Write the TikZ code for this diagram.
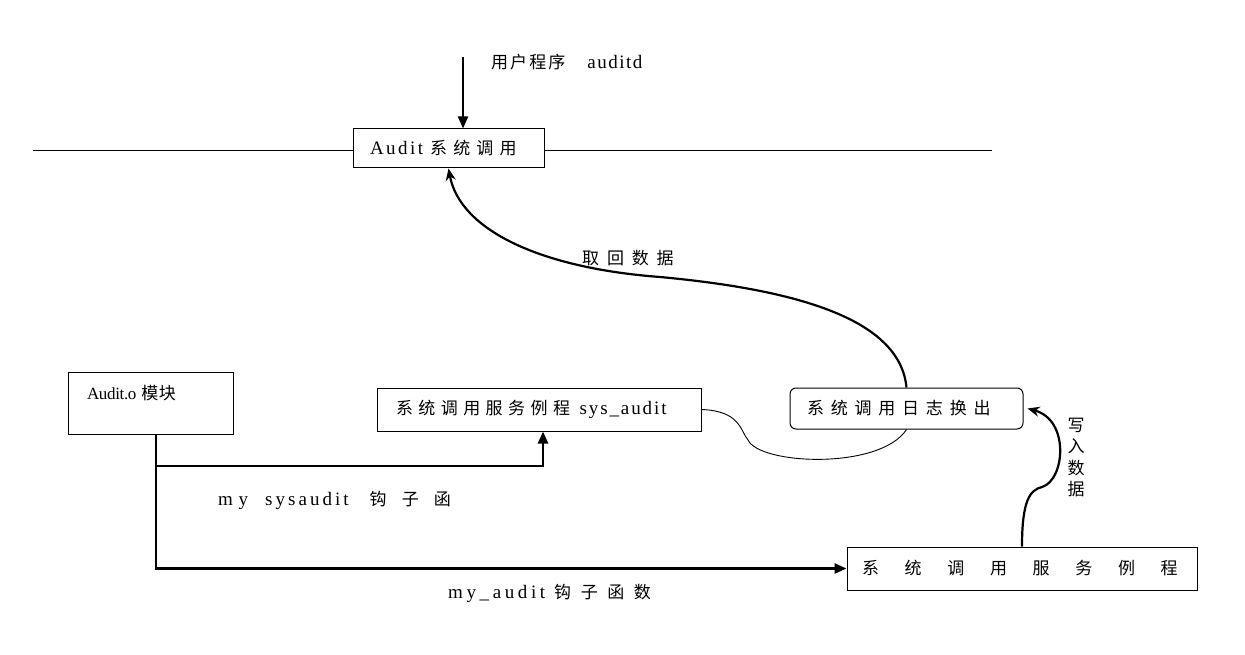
\documentclass[tikz,border=0pt]{standalone}
\usepackage{fontspec}
\setmainfont{Liberation Serif}
\newfontfamily\cjk{Noto Sans CJK SC}
\newcommand\LS[1]{\addfontfeature{LetterSpace=#1}}
\newcommand\zh[2]{{\cjk\fontsize{17}{20}\selectfont\LS{#1}#2}}
\newcommand\la[2]{{\fontsize{19}{22}\selectfont\LS{#1}#2}}
\usetikzlibrary{arrows.meta,calc}
\tikzset{
  box/.style={draw, line width=1pt, inner ysep=0pt, align=left, font=\fontsize{17}{20}\selectfont},
  rbox/.style={box, rounded corners=6pt},
  lbl/.style={inner sep=0pt, font=\fontsize{17}{20}\selectfont},
  thickarr/.style={line width=2.6pt, -{Triangle[length=12pt,width=10pt]}},
  curvearr/.style={line width=2.2pt, -{Stealth[length=12pt,width=10pt]}},
  thin/.style={line width=0.9pt}
}
\begin{document}
\begin{tikzpicture}[x=1pt,y=-1pt]
\useasboundingbox (0,0) rectangle (1245,655);
% boxes
\node[box, inner xsep=17pt, text width=157pt, minimum height=39pt] (sys) at (448.5,148.5)
  {\la{13}{Audit}\hspace{7pt}\zh{36}{系统调用}};
\node[box, inner xsep=19pt, inner ysep=15pt, text width=127pt, text height=12pt, text depth=20pt] (ao) at (150.5,403)
  {{\fontsize{17}{20}\selectfont\LS{-2}Audit.o}\hspace{5pt}\zh{2}{模块}};
\node[box, inner xsep=19pt, text width=286pt, minimum height=43pt] (sa) at (539,409.5)
  {\zh{32}{系统调用服务例程}\hspace{9.5pt}\la{10}{sys\_audit}};
\node[rbox, inner xsep=17pt, text width=199pt, minimum height=41pt] (ro) at (906.5,408.5)
  {\zh{40}{系统调用日志换出}};
\node[box, inner xsep=15pt, text width=320pt, minimum height=43pt] (bot) at (1022,568.5)
  {\zh{151}{系统调用服务例程}};
% horizontal line through the system call box
\coordinate (hl) at (33,150);
\coordinate (hr) at (992,150);
\draw[thin] (hl) -- (hl -| sys.west);
\draw[thin] (hr -| sys.east) -- (hr);
% user program arrow
\coordinate (u) at (463,57);
\draw[line width=2pt, -{Triangle[length=12pt,width=10pt]}] (u) -- (u |- sys.north);
\node[lbl, anchor=west] (ut) at (491,62) {\zh{12}{用户程序}\hspace{22pt}\la{8}{auditd}};
% thick hook arrows
\coordinate (a1) at (156,434);
\coordinate (a2) at (156,466);
\draw[line width=2.6pt] (a1) -- (a2);
\draw[thickarr] (a2) |- (bot.west);
\draw[thickarr] (a2) -| ([xshift=4pt]sa.south);
\node[lbl, anchor=west] (hk1) at (218,500)
  {\la{30}{my}\hspace{17pt}\la{16}{sysaudit}\hspace{21pt}\zh{89}{钩子函}};
\node[lbl, anchor=west] (hk2) at (448,593)
  {\la{19}{my\_audit}\hspace{9pt}\zh{56}{钩子函数}};
% retrieve data curve
\draw[curvearr] (ro.north) .. controls (900,320) and (800,290) .. (660,277)
   .. controls (540,268) and (460,230) .. (sys.south);
\node[lbl, anchor=west] (qh) at (582,258) {\zh{46}{取回数据}};
% thin connector
\draw[thin] (sa.east) .. controls (740,411) and (740,430) .. (748,440)
   .. controls (760,465) and (880,470) .. (ro.south);
% write data curve
\draw[curvearr] (bot.north) .. controls (1022,500) and (1030,490) .. (1042,487)
   .. controls (1065,480) and (1070,420) .. ([xshift=4pt]ro.east);
\node[lbl, align=center, font=\fontsize{17}{21.3}\selectfont\cjk] (xr) at (1076,457.5) {写\\入\\数\\据};
\end{tikzpicture}
\end{document}
